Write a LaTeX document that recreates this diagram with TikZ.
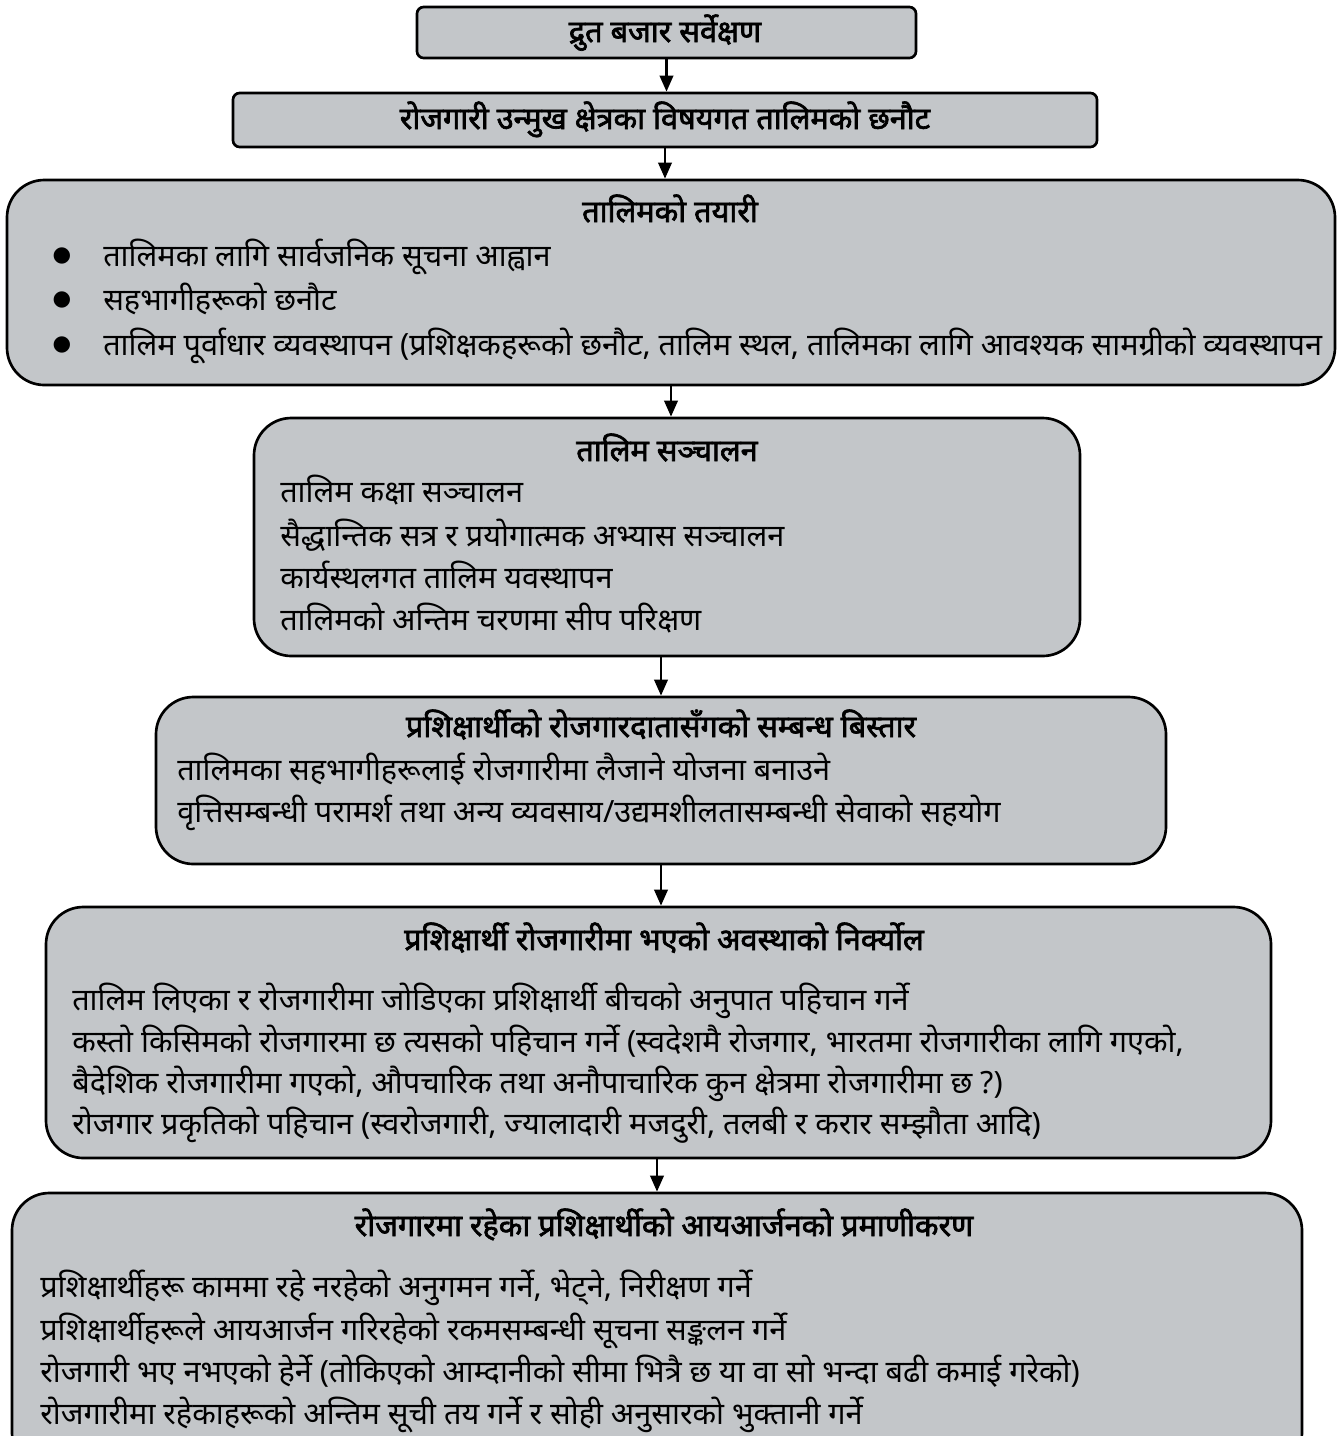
\documentclass[tikz,border=0pt]{standalone}
\usepackage{fontspec}
\newfontfamily\dev[Script=Devanagari]{Noto Sans}
\newfontfamily\devb[Script=Devanagari, FakeBold=2.2]{Noto Sans}
\newfontfamily\sym{DejaVu Sans}
\usetikzlibrary{fit,arrows.meta}
\definecolor{boxgray}{RGB}{195,198,201}
\tikzset{
  box/.style={draw=black, line width=2pt, fill=boxgray, inner sep=0pt, rounded corners=28pt},
  sbox/.style={box, rounded corners=5pt},
  ttl/.style={font=\devb\fontsize{23}{27}\selectfont, anchor=base, inner sep=0pt},
  txt/.style={font=\dev\fontsize{23}{27}\selectfont, anchor=base west, inner sep=0pt},
  bul/.style={font=\sym\fontsize{16}{18}\selectfont, inner sep=0pt},
  arr/.style={-{Triangle[length=12pt,width=10pt]}, line width=2pt},
}
\begin{document}
\begin{tikzpicture}[x=0.75pt,y=-0.75pt]
\clip (0,0) rectangle (1341,1436);
% boxes
\node[sbox, fit={(417,7)(916,58)}] (b1) {};
\node[sbox, fit={(233,93)(1097,147)}] (b2) {};
\node[box, fit={(7,180)(1335,385)}] (b3) {};
\node[box, fit={(254,418)(1080,656)}] (b4) {};
\node[box, fit={(156,697)(1166,864)}] (b5) {};
\node[box, fit={(46,907)(1271,1158)}] (b6) {};
\node[box, fit={(12,1193)(1302,1470)}] (b7) {};
% arrows
\draw[arr] (b1.south) -- (b1.south |- b2.north);
\draw[arr] (b2.south) -- (b2.south |- b3.north);
\draw[arr] (b3.south) -- (b3.south |- b4.north);
\draw[arr] (b5.north |- b4.south) -- (b5.north);
\draw[arr] (b5.south) -- (b5.south |- b6.north);
\draw[arr] (b7.north |- b6.south) -- (b7.north);
% box 1, 2
\node[ttl] (t1) at (665,42) {द्रुत बजार सर्वेक्षण};
\node[ttl] (t2) at (665,129) {रोजगारी उन्मुख क्षेत्रका विषयगत तालिमको छनौट};
% box 3
\node[ttl] (t3) at (670,222) {तालिमको तयारी};
\node[bul] (u1) at (62,256) {●};
\node[bul] (u2) at (62,300) {●};
\node[bul] (u3) at (62,345) {●};
\node[txt] (l31) at (103,266) {तालिमका लागि सार्वजनिक सूचना आह्वान};
\node[txt] (l32) at (103,310) {सहभागीहरूको छनौट};
\node[txt] (l33) at (103,355) {तालिम पूर्वाधार व्यवस्थापन (प्रशिक्षकहरूको छनौट, तालिम स्थल, तालिमका लागि आवश्यक सामग्रीको व्यवस्थापन};
% box 4
\node[ttl] (t4) at (667,461) {तालिम सञ्चालन};
\node[txt] (l41) at (280,502) {तालिम कक्षा सञ्चालन};
\node[txt] (l42) at (280,546) {सैद्धान्तिक सत्र र प्रयोगात्मक अभ्यास सञ्चालन};
\node[txt] (l43) at (280,588) {कार्यस्थलगत तालिम यवस्थापन};
\node[txt] (l44) at (280,630) {तालिमको अन्तिम चरणमा सीप परिक्षण};
% box 5
\node[ttl] (t5) at (661,737) {प्रशिक्षार्थीको रोजगारदातासँगको सम्बन्ध बिस्तार};
\node[txt] (l51) at (177,780) {तालिमका सहभागीहरूलाई रोजगारीमा लैजाने योजना बनाउने};
\node[txt] (l52) at (177,822) {वृत्तिसम्बन्धी परामर्श तथा अन्य व्यवसाय/उद्यमशीलतासम्बन्धी सेवाको सहयोग};
% box 6
\node[ttl] (t6) at (664,950) {प्रशिक्षार्थी रोजगारीमा भएको अवस्थाको निर्क्योल};
\node[txt] (l61) at (72,1010) {तालिम लिएका र रोजगारीमा जोडिएका प्रशिक्षार्थी बीचको अनुपात पहिचान गर्ने};
\node[txt] (l62) at (72,1052) {कस्तो किसिमको रोजगारमा छ त्यसको पहिचान गर्ने (स्वदेशमै रोजगार, भारतमा रोजगारीका लागि गएको,};
\node[txt] (l63) at (72,1093) {बैदेशिक रोजगारीमा गएको, औपचारिक तथा अनौपाचारिक कुन क्षेत्रमा रोजगारीमा छ ?)};
\node[txt] (l64) at (72,1134) {रोजगार प्रकृतिको पहिचान (स्वरोजगारी, ज्यालादारी मजदुरी, तलबी र करार सम्झौता आदि)};
% box 7
\node[ttl] (t7) at (664,1236) {रोजगारमा रहेका प्रशिक्षार्थीको आयआर्जनको प्रमाणीकरण};
\node[txt] (l71) at (40,1297) {प्रशिक्षार्थीहरू काममा रहे नरहेको अनुगमन गर्ने, भेट्ने, निरीक्षण गर्ने};
\node[txt] (l72) at (40,1340) {प्रशिक्षार्थीहरूले आयआर्जन गरिरहेको रकमसम्बन्धी सूचना सङ्कलन गर्ने};
\node[txt] (l73) at (40,1382) {रोजगारी भए नभएको हेर्ने (तोकिएको आम्दानीको सीमा भित्रै छ या वा सो भन्दा बढी कमाई गरेको)};
\node[txt] (l74) at (40,1424) {रोजगारीमा रहेकाहरूको अन्तिम सूची तय गर्ने र सोही अनुसारको भुक्तानी गर्ने};
\end{tikzpicture}
\end{document}
